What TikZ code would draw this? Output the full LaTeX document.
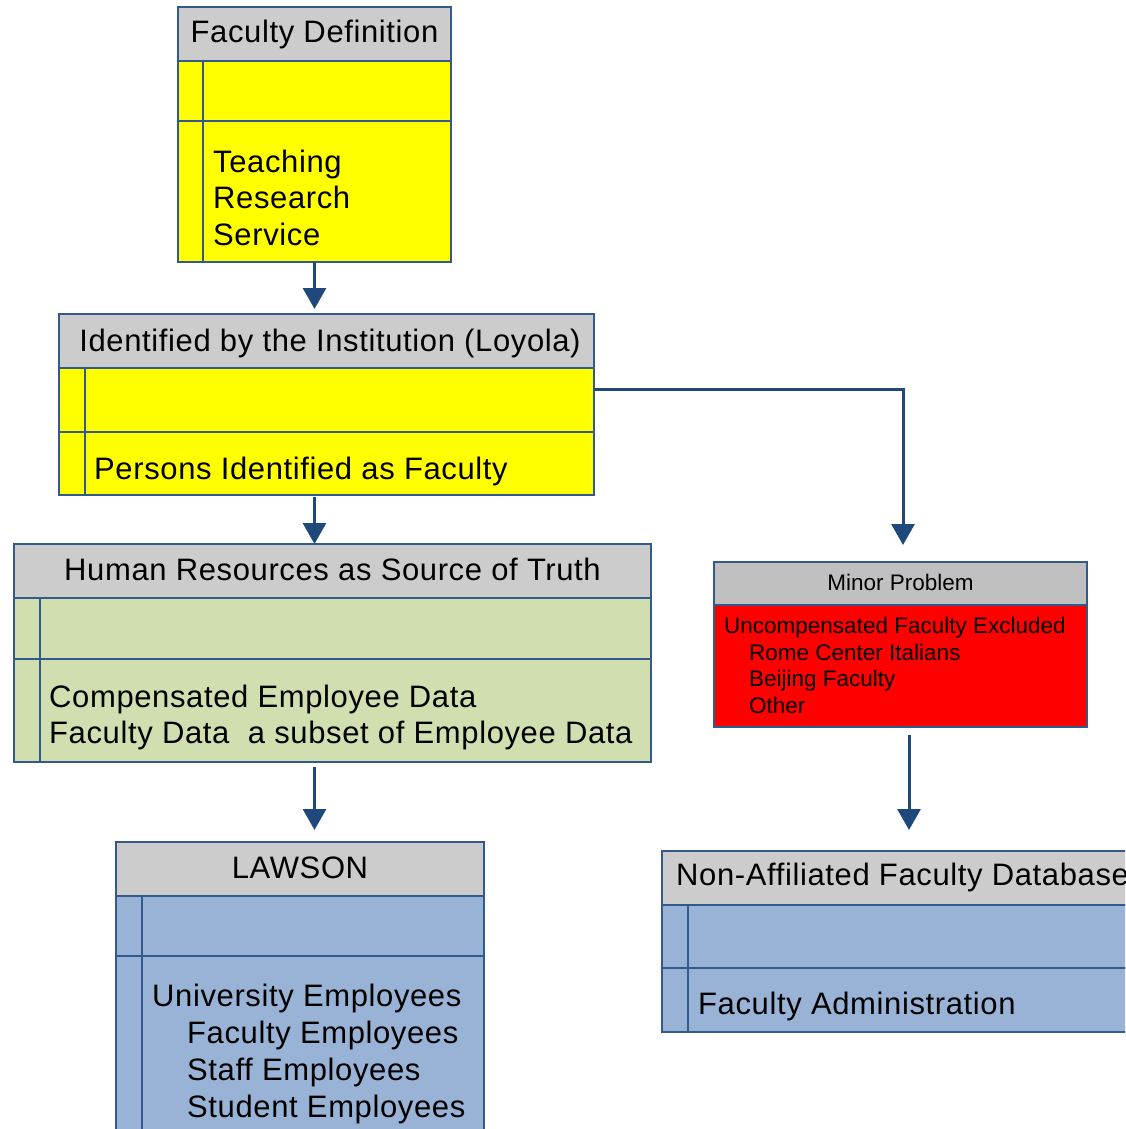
\documentclass[tikz,border=0pt]{standalone}
\usepackage{fontspec}
\setmainfont{Liberation Sans}
\newfontfamily\widefont[LetterSpace=2]{Liberation Sans}
\usetikzlibrary{arrows.meta}
\definecolor{bd}{RGB}{50,90,140}
\definecolor{ar}{RGB}{31,73,125}
\definecolor{hdgray}{RGB}{204,204,204}
\definecolor{hdgray2}{RGB}{192,192,192}
\definecolor{yel}{RGB}{255,255,0}
\definecolor{grn}{RGB}{208,222,176}
\definecolor{blu}{RGB}{152,179,213}
\definecolor{rd}{RGB}{255,0,0}
\tikzset{
  box/.style={draw=bd, line width=1.3pt, inner sep=0pt, outer sep=0pt, anchor=north west},
  hd/.style={box, fill=hdgray},
  hdb/.style={box, fill=hdgray2},
  yelbox/.style={box, fill=yel},
  grnbox/.style={box, fill=grn},
  blubox/.style={box, fill=blu},
  redbox/.style={box, fill=rd},
  side/.style={draw=bd, line width=1.3pt},
  tx/.style={inner sep=0pt, anchor=base west, font=\widefont\fontsize{31}{37}\selectfont},
  ttl/.style={inner sep=0pt, anchor=base, font=\widefont\fontsize{31}{37}\selectfont},
  stx/.style={inner sep=0pt, anchor=base west, font=\fontsize{22.5}{26}\selectfont},
  sttl/.style={inner sep=0pt, anchor=base, font=\fontsize{22.5}{26}\selectfont},
  arr/.style={draw=ar, line width=3pt, -{Triangle[width=23pt,length=21pt]}}
}
\begin{document}
\begin{tikzpicture}[x=1pt,y=-1pt]
\useasboundingbox (0,0) rectangle (1125,1129);
\clip (0,0) rectangle (1125,1129);
% Faculty Definition
\node[hd, minimum width=273, minimum height=54] (fdh) at (178,7) {};
\node[yelbox, minimum width=273, minimum height=60] (fdr1) at (178,61) {};
\node[yelbox, minimum width=273, minimum height=141] (fdr2) at (178,121) {};
\draw[side] ([xshift=25pt]fdr1.north west) -- ([xshift=25pt]fdr2.south west);
\node[ttl] (fdt) at (314.5,43) {Faculty Definition};
\node[tx] (fdl1) at (213,172) {Teaching};
\node[tx] (fdl2) at (213,208.5) {Research};
\node[tx] (fdl3) at (213,245) {Service};
% Identified by the Institution
\node[hd, minimum width=535, minimum height=54] (inh) at (59,314) {};
\node[yelbox, minimum width=535, minimum height=64] (inr1) at (59,368) {};
\node[yelbox, minimum width=535, minimum height=63] (inr2) at (59,432) {};
\draw[side] ([xshift=26pt]inr1.north west) -- ([xshift=26pt]inr2.south west);
\node[ttl] (int) at (330,351) {Identified by the Institution (Loyola)};
\node[tx] (inl1) at (94,479) {Persons Identified as Faculty};
% Human Resources
\node[hd, minimum width=637, minimum height=54] (hrh) at (14,544) {};
\node[grnbox, minimum width=637, minimum height=61] (hrr1) at (14,598) {};
\node[grnbox, minimum width=637, minimum height=103] (hrr2) at (14,659) {};
\draw[side] ([xshift=26pt]hrr1.north west) -- ([xshift=26pt]hrr2.south west);
\node[ttl] (hrt) at (332.5,580) {Human Resources as Source of Truth};
\node[tx] (hrl1) at (49,707) {Compensated Employee Data};
\node[tx] (hrl2) at (49,743.5) {Faculty Data\ \ a subset of Employee Data};
% LAWSON
\node[hd, minimum width=368, minimum height=54] (lwh) at (116,842) {};
\node[blubox, minimum width=368, minimum height=60] (lwr1) at (116,896) {};
\node[blubox, minimum width=368, minimum height=190] (lwr2) at (116,956) {};
\draw[side] ([xshift=26pt]lwr1.north west) -- ([xshift=26pt]lwr2.south west);
\node[ttl] (lwt) at (300,878) {LAWSON};
\node[tx] (lwl1) at (152,1006) {University Employees};
\node[tx] (lwl2) at (187,1043) {Faculty Employees};
\node[tx] (lwl3) at (187,1080) {Staff Employees};
\node[tx] (lwl4) at (187,1117) {Student Employees};
% Minor Problem
\node[hdb, minimum width=373, minimum height=43] (mph) at (714,562) {};
\node[redbox, minimum width=373, minimum height=122] (mpb) at (714,605) {};
\node[sttl] (mpt) at (900.5,590) {Minor Problem};
\node[stx] (mpl1) at (724,633.5) {Uncompensated Faculty Excluded};
\node[stx] (mpl2) at (749,660) {Rome Center Italians};
\node[stx] (mpl3) at (749,686.5) {Beijing Faculty};
\node[stx] (mpl4) at (749,713) {Other};
% Non-Affiliated Faculty Database
\node[hd, minimum width=480, minimum height=54] (nah) at (662,851) {};
\node[blubox, minimum width=480, minimum height=63] (nar1) at (662,905) {};
\node[blubox, minimum width=480, minimum height=64] (nar2) at (662,968) {};
\draw[side] ([xshift=26pt]nar1.north west) -- ([xshift=26pt]nar2.south west);
\node[tx] (nat) at (676,885.5) {Non-Affiliated Faculty Database};
\node[tx] (nal1) at (698,1014) {Faculty Administration};
% connectors
\draw[arr, shorten >=5pt] (fdr2.south) -- (fdr2.south |- inh.north);
\draw[arr, shorten <=2pt] (inr2.south -| fdr2.south) -- (hrh.north -| fdr2.south);
\draw[arr, shorten <=5pt, shorten >=12pt] (hrr2.south -| fdr2.south) -- (lwh.north -| fdr2.south);
\draw[arr, shorten >=17pt] ([yshift=11pt]inr1.east) -| ([xshift=2.5pt]mph.north);
\draw[arr, shorten <=8pt, shorten >=21pt] ([xshift=8.5pt]mpb.south) -- ([xshift=8.5pt]mpb.south |- nah.north);
\end{tikzpicture}
\end{document}
